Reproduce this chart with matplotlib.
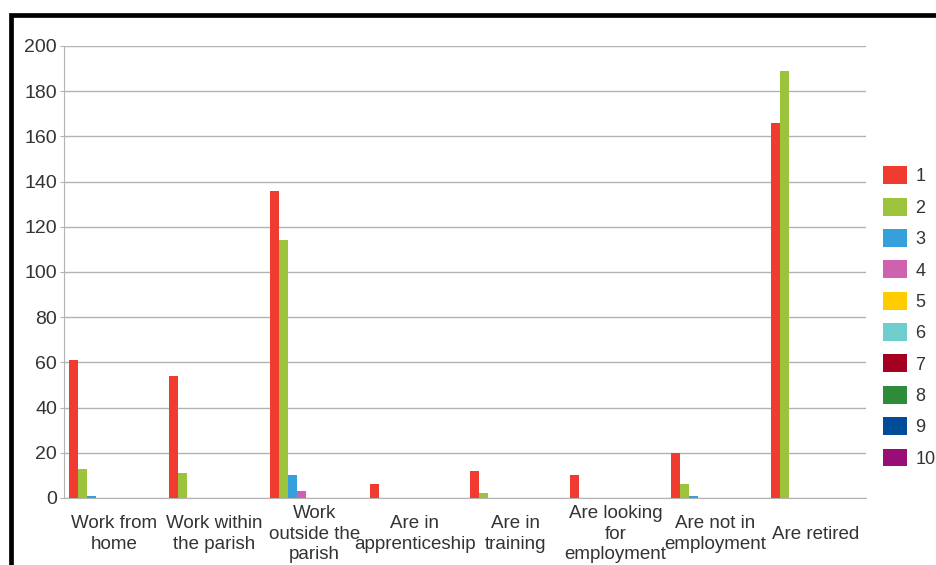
import matplotlib.pyplot as plt
import numpy as np
from matplotlib.patches import Rectangle

plt.rcParams['font.family'] = ['Liberation Sans', 'DejaVu Sans']

categories = ["Work from\nhome", "Work within\nthe parish", "Work\noutside the\nparish",
              "Are in\napprenticeship", "Are in\ntraining", "Are looking\nfor\nemployment",
              "Are not in\nemployment", "Are retired"]
series_names = ["1", "2", "3", "4", "5", "6", "7", "8", "9", "10"]

s1 = [61, 54, 136, 6, 12, 10, 20, 166]
s2 = [13, 11, 114, 0, 2, 0, 6, 189]
s3 = [1, 0, 10, 0, 0, 0, 1, 0]
s4 = [0, 0, 3, 0, 0, 0, 0, 0]
s5 = [0, 0, 0, 0, 0, 0, 0, 0]
s6 = [0, 0, 0, 0, 0, 0, 0, 0]
s7 = [0, 0, 0, 0, 0, 0, 0, 0]
s8 = [0, 0, 0, 0, 0, 0, 0, 0]
s9 = [0, 0, 0, 0, 0, 0, 0, 0]
s10 = [0, 0, 0, 0, 0, 0, 0, 0]
all_series = [s1, s2, s3, s4, s5, s6, s7, s8, s9, s10]

colors = ['#ef3b30', '#9bc43c', '#36a0dc', '#cf61ae', '#ffcc00',
          '#6fcdcd', '#a4001f', '#2e8b3a', '#004c99', '#980e76']

fig = plt.figure(figsize=(9.36, 5.65), dpi=100)
ax = fig.add_axes([64 / 936, 1 - 498 / 565, (866 - 64) / 936, 452 / 565])

x = np.arange(len(categories))
width = 0.09
for j, vals in enumerate(all_series):
    ax.bar(x + (j - 4.5) * width, vals, width, color=colors[j],
           label=series_names[j], zorder=3, linewidth=0)

ax.set_xlim(-0.5, len(categories) - 0.5)
ax.set_ylim(0, 200)
ax.set_yticks(range(0, 201, 20))
ax.grid(axis='y', color='#b3b3b3', linewidth=1, zorder=0)
for side in ['top', 'right']:
    ax.spines[side].set_visible(False)
ax.spines['left'].set_color('#b3b3b3')
ax.spines['bottom'].set_color('#b3b3b3')

ax.tick_params(axis='y', labelsize=14, colors='#b3b3b3', labelcolor='#333333', length=3, pad=2)
ax.set_xticks(x, categories)
ax.tick_params(axis='x', labelsize=13.5, labelcolor='#333333', length=0, pad=26)
for lbl in ax.get_xticklabels():
    lbl.set_va('center')
    lbl.set_linespacing(1.25)

fig.legend(loc='center left', bbox_to_anchor=(874 / 936, 1 - 317 / 565),
           frameon=False, fontsize=13, handlelength=1.3, handleheight=1.15,
           handletextpad=0.5, labelspacing=0.68, borderpad=0,
           labelcolor='#333333')

# black frame on the left and top edges
fig.add_artist(Rectangle((10.5 / 936, -0.1), 2, 1 - 15 / 565 + 0.1,
                         transform=fig.transFigure, fill=False,
                         edgecolor='black', linewidth=3.4, clip_on=False))

fig.savefig('out.png', dpi=100)
